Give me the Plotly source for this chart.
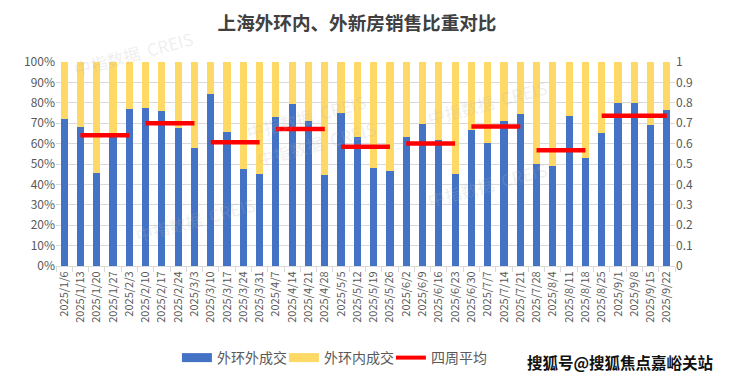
import plotly.graph_objects as go

weeks = ["2025/1/6", "2025/1/13", "2025/1/20", "2025/1/27", "2025/2/3", "2025/2/10",
         "2025/2/17", "2025/2/24", "2025/3/3", "2025/3/10", "2025/3/17", "2025/3/24",
         "2025/3/31", "2025/4/7", "2025/4/14", "2025/4/21", "2025/4/28", "2025/5/5",
         "2025/5/12", "2025/5/19", "2025/5/26", "2025/6/2", "2025/6/9", "2025/6/16",
         "2025/6/23", "2025/6/30", "2025/7/7", "2025/7/14", "2025/7/21", "2025/7/28",
         "2025/8/4", "2025/8/11", "2025/8/18", "2025/8/25", "2025/9/1", "2025/9/8",
         "2025/9/15", "2025/9/22"]

outer_share = [0.720, 0.682, 0.457, 0.650, 0.768, 0.774, 0.759, 0.676, 0.577, 0.842,
               0.657, 0.475, 0.451, 0.729, 0.794, 0.710, 0.445, 0.750, 0.631, 0.480,
               0.465, 0.631, 0.695, 0.618, 0.450, 0.666, 0.602, 0.710, 0.746, 0.499,
               0.489, 0.734, 0.529, 0.651, 0.798, 0.798, 0.690, 0.763]
inner_share = [0.280, 0.318, 0.543, 0.350, 0.232, 0.226, 0.241, 0.324, 0.423, 0.158,
               0.343, 0.525, 0.549, 0.271, 0.206, 0.290, 0.555, 0.250, 0.369, 0.520,
               0.535, 0.369, 0.305, 0.382, 0.550, 0.334, 0.398, 0.290, 0.254, 0.501,
               0.511, 0.266, 0.471, 0.349, 0.202, 0.202, 0.310, 0.237]

# four-week average segments: (first week, last week, value)
avg_start = ["2025/1/13", "2025/2/10", "2025/3/10", "2025/4/7", "2025/5/5",
             "2025/6/2", "2025/6/30", "2025/7/28", "2025/8/25"]
avg_end = ["2025/2/3", "2025/3/3", "2025/3/31", "2025/4/28", "2025/5/26",
           "2025/6/23", "2025/7/21", "2025/8/18", "2025/9/22"]
avg_value = [0.641, 0.700, 0.607, 0.672, 0.584, 0.601, 0.684, 0.568, 0.737]

line_x, line_y = [], []
for s, e, v in zip(avg_start, avg_end, avg_value):
    line_x += [s, e, None]
    line_y += [v, v, None]

CJK = "Noto Sans CJK SC"
GREY = "#595959"
BLUE = "#4472C4"
YELLOW = "#FFD966"
RED = "#FF0000"

fig = go.Figure()
fig.add_trace(go.Bar(x=weeks, y=outer_share, name="外环外成交", showlegend=False,
                     marker=dict(color=BLUE, line=dict(width=0))))
fig.add_trace(go.Bar(x=weeks, y=inner_share, name="外环内成交", showlegend=False,
                     marker=dict(color=YELLOW, line=dict(width=0))))
fig.add_trace(go.Scatter(x=line_x, y=line_y, name="四周平均", yaxis="y2",
                         mode="lines", line=dict(color=RED, width=4.5),
                         connectgaps=False, showlegend=False))
# legend entries (wide swatches like the original)
for nm, col, w in [("外环外成交", BLUE, 9), ("外环内成交", YELLOW, 9), ("四周平均", RED, 4)]:
    fig.add_trace(go.Scatter(x=[None], y=[None], name=nm, mode="lines",
                             line=dict(color=col, width=w), showlegend=True))

fig.update_layout(
    width=713, height=367,
    margin=dict(l=48, r=46, t=54, b=109, autoexpand=False),
    paper_bgcolor="white", plot_bgcolor="white",
    barmode="stack", bargap=0.56,
    font=dict(family=CJK, size=12, color=GREY),
    title=dict(text="<b>上海外环内、外新房销售比重对比</b>",
               font=dict(family=CJK, size=18.6, color="#404040"),
               x=0.4895, xanchor="center", y=0.958, yanchor="middle"),
    xaxis=dict(type="category", tickangle=-90, tickfont=dict(size=11, color=GREY),
               showline=True, linecolor="#D9D9D9", linewidth=1, automargin=False,
               ticks="outside", tickson="boundaries", ticklen=5, tickcolor="#D9D9D9",
               showgrid=False),
    yaxis=dict(range=[0, 1], dtick=0.1, tickformat=".0%", automargin=False,
               tickfont=dict(size=12, color=GREY),
               gridcolor="#D9D9D9", gridwidth=1, zeroline=False, showline=False),
    yaxis2=dict(range=[0, 1], dtick=0.1, overlaying="y", side="right", automargin=False,
                tickfont=dict(size=12, color=GREY), showgrid=False,
                zeroline=False, showline=False),
    legend=dict(orientation="h", xref="container", x=0.462, xanchor="center",
                yref="container", y=0.0463, yanchor="middle",
                font=dict(size=14, color=GREY), traceorder="normal",
                itemwidth=30, entrywidth=62, bgcolor="rgba(0,0,0,0)"),
    showlegend=True,
)

fig.add_annotation(text="<b>搜狐号@搜狐焦点嘉峪关站</b>", xref="paper", yref="paper",
                   x=1.0646, xanchor="right", y=-0.47, yanchor="middle", showarrow=False,
                   font=dict(family=CJK, size=15.5, color="#111111"))

for (wx, wy) in [(0.02, 1.19), (0.42, 0.60), (0.12, 0.08), (0.80, 0.95), (0.80, 0.25), (0.30, 0.88)]:
    fig.add_annotation(text="中指数据  CREIS", xref="paper", yref="paper", x=wx, y=wy,
                       showarrow=False, textangle=-15,
                       font=dict(family=CJK, size=17, color="rgba(180,180,180,0.22)"))

fig.write_html("out.html")
